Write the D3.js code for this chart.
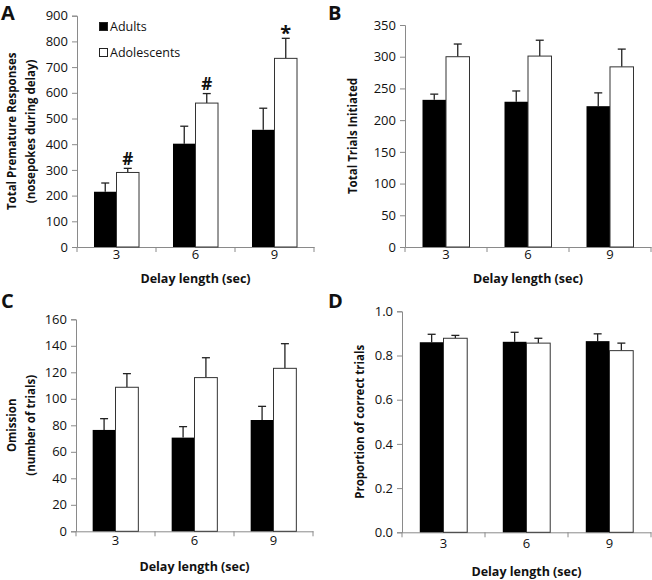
<!DOCTYPE html>
<html><head><meta charset="utf-8">
<script src="https://cdn.jsdelivr.net/npm/d3@7"></script>
<style>body{margin:0;background:#fff}svg{display:block}text{font-family:"Open Sans","DejaVu Sans",sans-serif}</style>
</head><body><svg id="c" width="652" height="580"></svg>
<script>
const categories = ["3","6","9"];
const seriesNames = ["Adults","Adolescents"];
// Panel A
const aAdults = [215, 402, 456], aAdultsErr = [34, 68, 84];
const aAdol = [290, 560, 734], aAdolErr = [16, 37, 78];
const aMarks = ["#", "#", "*"];
const aTicks = [0,100,200,300,400,500,600,700,800,900];
// Panel B
const bAdults = [232, 229, 222], bAdultsErr = [9, 17, 21];
const bAdol = [300, 301, 284], bAdolErr = [20, 25, 28];
const bTicks = [0,50,100,150,200,250,300,350];
// Panel C
const cAdults = [76.5, 70.7, 84], cAdultsErr = [8.5, 8.3, 10.3];
const cAdol = [108.7, 116, 123], cAdolErr = [10.3, 15, 18.6];
const cTicks = [0,20,40,60,80,100,120,140,160];
// Panel D
const dAdults = [0.860, 0.862, 0.865], dAdultsErr = [0.036, 0.043, 0.033];
const dAdol = [0.878, 0.856, 0.822], dAdolErr = [0.013, 0.022, 0.034];
const dTicks = [0,0.2,0.4,0.6,0.8,1.0];

const svg = d3.select("#c");
const axisColor = "#8a8a8a";

function panel(o){
  const g = svg.append("g");
  const x = d3.scaleBand().domain(categories).range([o.x0, o.x1]).paddingInner(0).paddingOuter(0);
  const y = d3.scaleLinear().domain([0, o.max]).range([o.yb, o.yt]);
  const sub = d3.scaleBand().domain(seriesNames).range([0, x.bandwidth()]).paddingOuter(o.pad).paddingInner(0);
  // axes
  const ya = d3.axisLeft(y).tickValues(o.ticks).tickSize(5).tickFormat(o.fmt || (d=>d));
  const yg = g.append("g").attr("transform",`translate(${o.x0},0)`).call(ya);
  yg.select(".domain").attr("stroke",axisColor);
  yg.selectAll(".tick line").attr("stroke",axisColor);
  yg.selectAll(".tick text").attr("font-size",13).attr("fill","#111").attr("x",-9);
  const xa = d3.axisBottom(x).tickSize(0).tickSizeOuter(0);
  const xg = g.append("g").attr("transform",`translate(0,${o.yb})`).call(xa);
  xg.select(".domain").attr("stroke",axisColor);
  xg.selectAll(".tick text").attr("font-size",13).attr("fill","#111").attr("dy",0).attr("y",o.xlabY);
  // boundary ticks
  const bounds = [o.x0].concat(categories.map(c=>x(c)+x.bandwidth()));
  g.selectAll(".bt").data(bounds).enter().append("line")
    .attr("x1",d=>d).attr("x2",d=>d).attr("y1",o.yb).attr("y2",o.yb+5).attr("stroke",axisColor);
  // bars
  const series = [{name:"Adults",v:o.adults,e:o.adultsErr,fill:"#000"},{name:"Adolescents",v:o.adol,e:o.adolErr,fill:"#fff"}];
  series.forEach(s=>{
    categories.forEach((c,i)=>{
      const bx = x(c)+sub(s.name), bw = sub.bandwidth();
      const cx = bx + bw/2;
      g.append("line").attr("x1",cx).attr("x2",cx).attr("y1",y(s.v[i])).attr("y2",y(s.v[i]+s.e[i])).attr("stroke","#222").attr("stroke-width",1.3);
      g.append("line").attr("x1",cx-4).attr("x2",cx+4).attr("y1",y(s.v[i]+s.e[i])).attr("y2",y(s.v[i]+s.e[i])).attr("stroke","#222").attr("stroke-width",1.3);
      g.append("rect").attr("x",bx).attr("y",y(s.v[i])).attr("width",bw).attr("height",y(0)-y(s.v[i]))
        .attr("fill",s.fill).attr("stroke",s.fill==="#000"?"none":"#333").attr("stroke-width",1);
    });
  });
  if (o.marks){
    categories.forEach((c,i)=>{
      const cx = x(c)+sub("Adolescents")+sub.bandwidth()/2;
      const star = o.marks[i]==="*";
      g.append("text").attr("x",cx).attr("y",y(o.adol[i]+o.adolErr[i])-(star?10:10)).attr("text-anchor","middle")
        .attr("dominant-baseline","central")
        .attr("font-size",star?20:17).attr("font-weight","bold").attr("fill","#111")
        .attr("dy",star?"0.2em":0).text(o.marks[i]);
    });
  }
  // y title
  const t = g.append("text").attr("transform",`translate(${o.ytx},${(o.yt+o.yb)/2}) rotate(-90)`)
    .attr("text-anchor","middle").attr("font-size",11.5).attr("font-weight","bold").attr("fill","#111");
  o.ytitle.forEach((line,k)=>t.append("tspan").attr("x",0).attr("dy",k===0?0:19).text(line));
  // x title
  g.append("text").attr("x",(o.x0+o.x1)/2).attr("y",o.xtY).attr("text-anchor","middle")
    .attr("font-size",12.5).attr("font-weight","bold").attr("fill","#111").text("Delay length (sec)");
  // panel letter
  g.append("text").attr("x",o.lx).attr("y",o.ly).attr("font-size",20).attr("font-weight","bold")
    .attr("font-family","Liberation Sans, Arial, sans-serif").attr("fill","#111").text(o.letter);
  return {g,x,y};
}

panel({x0:77,x1:314,yt:15.7,yb:247,max:900,ticks:aTicks,adults:aAdults,adultsErr:aAdultsErr,adol:aAdol,adolErr:aAdolErr,
  pad:0.755,marks:aMarks,ytitle:["Total Premature Responses","(nosepokes during delay)"],ytx:16,xlabY:12,xtY:283,letter:"A",lx:1,ly:20});
panel({x0:405,x1:651,yt:25,yb:247,max:350,ticks:bTicks,adults:bAdults,adultsErr:bAdultsErr,adol:bAdol,adolErr:bAdolErr,
  pad:0.745,ytitle:["Total Trials Initiated"],ytx:357,xlabY:12,xtY:283,letter:"B",lx:328,ly:20});
panel({x0:76,x1:313,yt:319.3,yb:531.3,max:160,ticks:cTicks,adults:cAdults,adultsErr:cAdultsErr,adol:cAdol,adolErr:cAdolErr,
  pad:0.73,ytitle:["Omission","(number of trials)"],ytx:16,xlabY:14,xtY:571,letter:"C",lx:1,ly:308});
panel({x0:402,x1:651,yt:311.3,yb:532.3,max:1.0,ticks:dTicks,fmt:d3.format(".1f"),adults:dAdults,adultsErr:dAdultsErr,adol:dAdol,adolErr:dAdolErr,
  pad:0.75,ytitle:["Proportion of correct trials"],ytx:364,xlabY:16,xtY:576,letter:"D",lx:328,ly:308});

// legend (panel A)
const leg = svg.append("g");
seriesNames.forEach((n,i)=>{
  leg.append("rect").attr("x",99.5).attr("y",22.5+i*26).attr("width",8).attr("height",8)
    .attr("fill",i===0?"#000":"#fff").attr("stroke","#222").attr("stroke-width",1);
  leg.append("text").attr("x",110).attr("y",31+i*26).attr("font-size",12.5).attr("fill","#111").text(n);
});
</script></body></html>
